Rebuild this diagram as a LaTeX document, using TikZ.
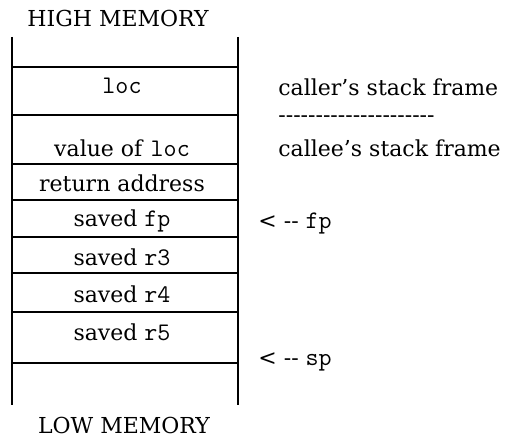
\documentclass[tikz,border=0pt]{standalone}
\usepackage{fontspec}
\setmainfont{DejaVu Serif}
\setmonofont{Latin Modern Mono}[Scale=1.15]
\usetikzlibrary{positioning}
\tikzstyle{l2}=[line width=1pt]
\tikzstyle{cell}=[anchor=base, inner sep=0pt]
\tikzstyle{note}=[anchor=base west, inner sep=0pt]
\tikzstyle{title}=[anchor=base, inner sep=0pt]
\newcommand{\hyrow}{-{}-{}-{}-{}-{}-{}-{}-{}-{}-{}-{}-{}-{}-{}-{}-{}-{}-{}-{}-{}-}

\begin{document}
\begin{tikzpicture}[x=0.5pt, y=-0.5pt, every node/.style={font=\fontsize{11}{13}\selectfont}]
    \useasboundingbox (0,0) rectangle (506,442);

    \node[title] (high) at (118,27) {HIGH MEMORY};
    \node[title] (low) at (124,433) {LOW MEMORY};

    % stack walls
    \coordinate (wl0) at (12,37);  \coordinate (wl1) at (12,405);
    \coordinate (wr0) at (238,37); \coordinate (wr1) at (238,405);
    \draw[l2] (wl0) -- (wl1);
    \draw[l2] (wr0) -- (wr1);
    \foreach \y in {67,115,164,200,237,273,312,363}{
            \draw[l2] (12,\y) -- (238,\y);
        }

    \node[cell] (loc) at (122,94) {\texttt{loc}};
    \node[cell] (val) at (122,157) {value of \texttt{loc}};
    \node[cell] (ret) at (122,192) {return address};
    \node[cell] (sfp) at (122,227) {saved \texttt{fp}};
    \node[cell] (sr3) at (122,265) {saved \texttt{r3}};
    \node[cell] (sr4) at (122,302) {saved \texttt{r4}};
    \node[cell] (sr5) at (122,340) {saved \texttt{r5}};

    \node[note] (caller) at (278,96) {caller’s stack frame};
    \node[note] (sep) at (278,123) {\hyrow};
    \node[note] (callee) at (278,157) {callee’s stack frame};

    \node[note] (fp) at (258,228) {< -{}- \texttt{fp}};
    \node[note] (sp) at (258,365) {< -{}- \texttt{sp}};

\end{tikzpicture}
\end{document}
